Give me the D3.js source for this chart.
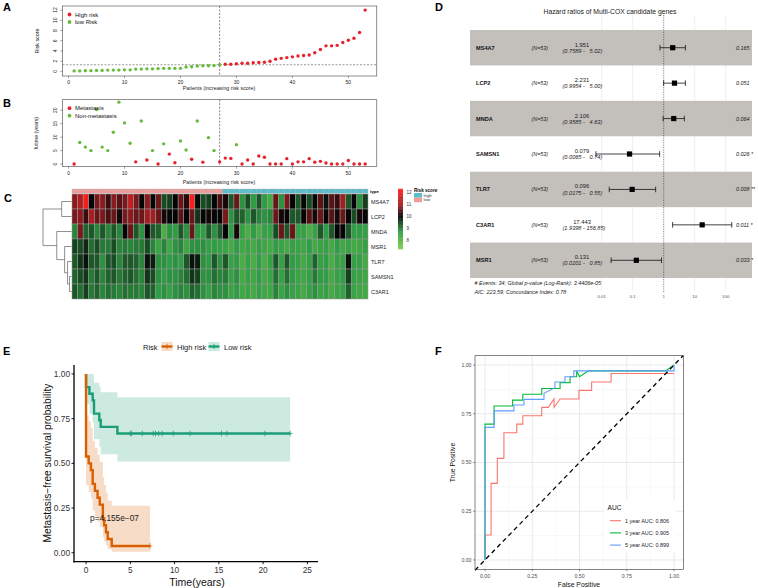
<!DOCTYPE html>
<html><head><meta charset="utf-8">
<script src="https://cdn.jsdelivr.net/npm/d3@7"></script>
<style>
body{margin:0;background:#fff}
svg{display:block}
text{font-family:"Liberation Sans",Arial,Helvetica,sans-serif;white-space:pre}
</style>
</head><body>
<svg id="c" width="758" height="588"></svg>
<script>
// ---------------- DATA ----------------
const patients = d3.range(1, 54);
const riskScore = [0.1,0.1,0.15,0.15,0.2,0.2,0.25,0.25,0.25,0.3,0.3,0.45,0.45,0.5,0.5,0.55,0.6,0.6,0.6,0.6,0.85,0.9,1.05,1.1,1.1,1.15,1.3,
  1.4,1.4,1.5,1.6,1.6,1.7,1.75,1.8,2.0,2.4,2.55,2.7,2.85,3.0,3.1,3.2,3.65,4.3,5.0,5.0,5.1,5.65,6.1,6.5,7.6,12.0];
const riskCutoff = 1.3;
const lowRiskCount = 27;
const futime = [0,8,6.3,5,20.3,6.3,5,11.8,23,15.3,7.7,0.8,16,1.5,5,0,7.5,3.7,0.5,8.6,5.2,1.8,16,0.7,9.8,5,0.8,
  2.2,2.1,7.2,0,1.5,0,3,2.5,0,0,0,2,0,0.8,0.8,2,0.7,1,0.4,0,0,0,1.3,0,0,0];
const metastasis = [1,0,0,0,0,0,0,0,0,0,0,1,0,1,0,1,0,1,1,0,0,1,0,1,0,0,1,
  1,1,0,1,1,1,1,1,1,1,1,1,1,1,1,1,1,1,1,1,1,1,1,1,1,1];

const heatGenes = ["MS4A7","LCP2","MNDA","MSR1","TLR7","SAMSN1","C3AR1"];
const exprMS4A7 = [10.8,11.2,12.2,10.0,10.7,10.8,10.3,10.8,10.5,10.7,11.4,10.7,10.0,10.8,10.0,10.6,9.4,9.5,10.0,10.6,10.2,12.2,10.0,9.4,9.5,10.0,10.4,
  10.1,9.3,10.6,8.8,9.4,8.7,9.3,8.7,8.3,10.6,8.8,10.7,10.0,9.3,10.0,9.4,10.0,10.5,9.9,10.5,10.3,11.0,9.3,10.0,8.8,9.5];
const exprLCP2 = [10.7,10.8,10.3,11.1,10.6,10.7,10.4,10.6,10.1,10.7,10.8,10.6,10.6,11.0,11.0,10.6,10.1,10.0,10.0,10.5,10.0,10.6,9.6,10.0,10.1,10.0,10.0,
  10.7,8.8,9.3,9.2,8.8,9.3,8.9,8.8,8.9,10.6,10.1,10.0,9.3,9.3,10.0,10.5,10.1,10.6,10.0,10.5,10.1,10.6,10.0,9.4,10.1,10.0];
const exprMNDA = [8.9,10.7,9.2,9.3,8.9,9.3,8.9,9.3,8.9,10.0,10.6,9.3,8.8,10.0,9.3,9.2,8.2,8.8,8.7,9.3,8.8,10.6,8.8,8.7,9.3,8.8,9.3,
  10.0,8.7,10.1,8.6,8.2,8.7,8.2,8.6,8.6,9.4,10.6,9.3,10.6,8.6,8.6,8.2,8.6,9.3,8.7,9.3,10.0,10.0,9.3,8.7,8.7,8.6];
const exprMSR1 = [9.5,9.4,9.7,9.1,9.4,9.0,9.0,9.4,8.9,9.0,8.9,9.0,9.0,9.4,8.9,8.5,8.9,8.4,8.8,8.9,8.4,8.8,8.8,8.8,8.6,8.7,8.6,
  8.5,8.3,8.7,8.4,8.5,8.3,8.6,8.4,8.3,8.7,8.5,8.3,8.6,8.5,8.4,8.7,8.3,8.5,8.6,8.3,8.7,8.4,8.5,8.3,8.4,8.6];
const exprTLR7 = [9.3,9.6,9.9,9.3,9.3,8.8,9.3,9.4,8.9,9.3,9.3,9.2,8.9,9.9,9.8,8.8,8.8,8.7,8.8,8.7,9.3,9.9,9.8,8.8,8.7,9.3,8.8,
  9.3,8.6,8.7,8.2,8.6,8.2,8.7,8.2,8.6,9.3,8.6,9.3,8.7,8.6,8.3,8.6,9.2,8.6,8.7,8.2,8.6,8.6,9.9,8.6,8.6,8.3];
const exprSAMSN1 = [9.2,9.4,9.6,9.0,9.3,8.9,9.2,9.3,9.0,9.2,9.3,9.1,8.9,9.6,9.4,8.8,8.7,8.8,8.8,8.9,9.1,9.6,9.5,8.8,8.8,9.1,8.9,
  9.0,8.6,8.8,8.3,8.6,8.4,8.7,8.3,8.5,9.1,8.6,9.1,8.7,8.5,8.4,8.6,9.0,8.7,8.7,8.3,8.6,8.7,9.5,8.6,8.5,8.4];
const exprC3AR1 = [9.3,9.1,9.5,9.0,9.2,8.9,9.1,9.0,8.9,9.1,9.0,9.0,8.9,9.3,9.2,8.7,8.8,8.6,8.8,8.9,8.8,9.2,9.1,8.8,8.6,8.9,8.8,
  8.8,8.5,8.7,8.4,8.5,8.3,8.6,8.4,8.4,8.9,8.5,8.8,8.6,8.5,8.3,8.6,8.8,8.5,8.6,8.3,8.5,8.6,9.2,8.5,8.4,8.3];
const colorbarTicks = [8,9,10,11,12];
// dendrogram merges: [left, right, height]
const dendroMerges = [["SAMSN1","C3AR1",1.0],["TLR7","m0",2.0],["MSR1","m1",3.5],["MS4A7","LCP2",5.0],["MNDA","m2",7.5],["m3","m4",14.5]];

const forestGenes = ["MS4A7","LCP2","MNDA","SAMSN1","TLR7","C3AR1","MSR1"];
const forestN = [53,53,53,53,53,53,53];
const forestHR = [1.951,2.231,2.106,0.079,0.096,17.443,0.131];
const forestLo = ["0.7589","0.9954","0.9585","0.0065","0.0175","1.9398","0.0201"];
const forestHi = ["5.02","5.00","4.63","0.74","0.55","156.85","0.85"];
const forestP = ["0.165","0.051","0.064","0.026 *","0.008 **","0.011 *","0.033 *"];
const forestTicks = [0.01,0.1,1,10,100];

const kmHighTime = [0,0.3,0.55,0.75,1.0,1.3,1.55,1.9,2.05,2.25,2.45,2.9];
const kmHighSurv = [0.538,0.5,0.462,0.385,0.346,0.308,0.269,0.192,0.154,0.115,0.077,0.038];
const kmHighLower = [0.377,0.340,0.305,0.237,0.204,0.173,0.143,0.088,0.063,0.040,0.020,0.006];
const kmHighUpper = [0.769,0.734,0.699,0.625,0.587,0.548,0.507,0.423,0.379,0.335,0.291,0.263];
const kmHighEnd = 7.23;
const kmHighCensor = [7.23];
const kmLowTime = [0,0.38,0.75,0.9,1.5,1.66,3.54];
const kmLowSurv = [0.926,0.889,0.852,0.778,0.741,0.704,0.667];
const kmLowLower = [0.832,0.778,0.728,0.636,0.593,0.551,0.511];
const kmLowUpper = [1,1,0.997,0.951,0.926,0.898,0.870];
const kmLowEnd = 23.05;
const kmLowCensor = [5,5.15,6.35,7.6,7.85,8.2,8.6,9.85,11.75,15.3,15.9,20.2,23.05];
const kmXTicks = [0,5,10,15,20,25];
const kmYTicks = [0,0.25,0.5,0.75,1];

const roc1FPR = [0,0,0.032,0.032,0.065,0.065,0.1,0.1,0.168,0.168,0.2,0.2,0.3,0.3,0.335,0.365,0.365,0.397,0.497,0.497,0.564,0.564,0.667,0.667,1];
const roc1TPR = [0,0.128,0.128,0.393,0.393,0.521,0.521,0.653,0.653,0.697,0.697,0.74,0.74,0.783,0.783,0.826,0.783,0.826,0.826,0.87,0.87,0.913,0.913,0.957,0.957];
const roc3FPR = [0,0,0.048,0.048,0.146,0.146,0.2,0.2,0.3,0.3,0.397,0.397,0.45,0.45,0.485,0.485,0.5,0.547,0.955,1];
const roc3TPR = [0,0.697,0.697,0.79,0.79,0.82,0.82,0.85,0.85,0.88,0.88,0.91,0.91,0.94,0.94,0.97,0.94,0.97,0.97,1];
const roc5FPR = [0,0,0.048,0.048,0.153,0.153,0.206,0.206,0.312,0.312,0.37,0.37,0.423,0.423,0.47,0.47,1,1];
const roc5TPR = [0,0.68,0.68,0.765,0.765,0.795,0.795,0.824,0.824,0.855,0.884,0.913,0.913,0.94,0.94,0.97,0.97,1];
const rocLabels = ["1 year AUC: 0.806","3 year AUC: 0.905","5 year AUC: 0.899"];
const rocTicks = [0,0.25,0.5,0.75,1];

// ---------------- DRAW ----------------
const svg = d3.select("#c");
const RED = "#E8202A", GREEN = "#66BB3A";

function txt(g, x, y, s, size, opts = {}) {
  const t = g.append("text").attr("x", x).attr("y", y).text(s).attr("font-size", size)
    .attr("fill", opts.fill || "#000");
  if (opts.anchor) t.attr("text-anchor", opts.anchor);
  if (opts.weight) t.attr("font-weight", opts.weight);
  if (opts.style) t.attr("font-style", opts.style);
  if (opts.rotate !== undefined) t.attr("transform", `rotate(${opts.rotate},${x},${y})`);
  return t;
}

// panel letters
[["A",3,11],["B",3,107],["C",4,202],["D",435,11],["E",3,355],["F",435,355]].forEach(([l,x,y]) =>
  txt(svg, x, y, l, 11, {weight: "bold"}));

// ---- base-R style scatter panels (A, B)
function basePanel(top, bottom, yDomain, yTicks, values, colorFn, ylab, legend, hline) {
  const g = svg.append("g");
  const x = d3.scaleLinear().domain([-1.08, 55.08]).range([62.5, 376.8]);
  const y = d3.scaleLinear().domain(yDomain).range([bottom, top]);
  g.append("rect").attr("x", x.range()[0]).attr("y", top).attr("width", x.range()[1]-x.range()[0])
    .attr("height", bottom-top).attr("fill", "none").attr("stroke", "#444").attr("stroke-width", 0.6);
  [0,10,20,30,40,50].forEach(v => {
    g.append("line").attr("x1", x(v)).attr("x2", x(v)).attr("y1", bottom).attr("y2", bottom+2.2).attr("stroke","#444").attr("stroke-width",0.5);
    txt(g, x(v), bottom+8, String(v), 5, {anchor: "middle", fill: "#222"});
  });
  yTicks.forEach(v => {
    g.append("line").attr("x1", x.range()[0]-2.2).attr("x2", x.range()[0]).attr("y1", y(v)).attr("y2", y(v)).attr("stroke","#444").attr("stroke-width",0.5);
    txt(g, x.range()[0]-5, y(v), String(v), 5, {anchor: "middle", fill: "#222", rotate: -90});
  });
  txt(g, 38.5, (top+bottom)/2, ylab, 5.3, {anchor: "middle", rotate: -90, fill: "#222"});
  g.append("line").attr("x1", x(lowRiskCount)).attr("x2", x(lowRiskCount)).attr("y1", top).attr("y2", bottom)
    .attr("stroke", "#333").attr("stroke-width", 0.6).attr("stroke-dasharray", "2,1.5");
  if (hline !== undefined)
    g.append("line").attr("x1", x.range()[0]).attr("x2", x.range()[1]).attr("y1", y(hline)).attr("y2", y(hline))
      .attr("stroke", "#555").attr("stroke-width", 0.6).attr("stroke-dasharray", "2,1.5");
  g.selectAll("circle.pt").data(values).join("circle").attr("class","pt")
    .attr("cx", (d,i) => x(patients[i])).attr("cy", d => y(d)).attr("r", 1.7)
    .attr("fill", (d,i) => colorFn(i));
  legend.forEach(([label, col], i) => {
    const ly = top + 8.5 + i*7.5;
    g.append("circle").attr("cx", 69.5).attr("cy", ly).attr("r", 1.9).attr("fill", col);
    txt(g, 75, ly + 2.1, label, 6, {fill: "#111"});
  });
  return {g, x, y};
}
basePanel(6, 76, [-0.9, 12.8], [0,2,4,6,8,10,12], riskScore,
  i => i < lowRiskCount ? GREEN : RED, "Risk score", [["High risk", RED], ["low Risk", GREEN]], riskCutoff);
txt(svg, 219, 90, "Patients (increasing risk score)", 5.3, {anchor: "middle", fill: "#222"});
basePanel(99.7, 166.5, [-0.92, 23.92], [0,5,10,15,20], futime,
  i => metastasis[i] ? RED : GREEN, "futime (years)", [["Metastasis", RED], ["Non-metastasis", GREEN]]);
txt(svg, 219, 183.5, "Patients (increasing risk score)", 5.3, {anchor: "middle", fill: "#222"});

// ---- Heatmap (C)
{
  const g = svg.append("g");
  const expr = [exprMS4A7, exprLCP2, exprMNDA, exprMSR1, exprTLR7, exprSAMSN1, exprC3AR1];
  const xH = d3.scaleBand().domain(patients).range([72, 368]);
  const yH = d3.scaleBand().domain(heatGenes).range([194, 299]);
  const col = d3.scaleLinear().domain([7.3, 8.7, 10, 10.9, 12.3])
    .range(["#7ACB45", "#2E9E44", "#050505", "#9C1E22", "#FF1E1E"]).clamp(true);
  const annCol = p => p <= lowRiskCount ? "#EE9C9A" : "#5BBCCB";
  g.selectAll("rect.ann").data(patients).join("rect").attr("class","ann")
    .attr("x", d => xH(d)).attr("y", 189).attr("width", xH.bandwidth()).attr("height", 4.3)
    .attr("fill", d => annCol(d)).attr("stroke", "#aaa").attr("stroke-width", 0.3);
  txt(g, 370, 192.8, "type", 4.3, {weight: "bold"});
  heatGenes.forEach((gene, r) => {
    g.selectAll(`rect.r${r}`).data(expr[r]).join("rect").attr("class", `r${r}`)
      .attr("x", (d,i) => xH(patients[i])).attr("y", yH(gene)).attr("width", xH.bandwidth()).attr("height", yH.bandwidth())
      .attr("fill", d => col(d)).attr("stroke", "#999").attr("stroke-width", 0.5);
    txt(g, 371, yH(gene) + yH.bandwidth()/2 + 2, gene, 5.5, {fill: "#222"});
  });
  // dendrogram
  const hx = d3.scaleLinear().domain([0, 14.5]).range([71.5, 43]);
  const nodes = {};
  heatGenes.forEach(gn => nodes[gn] = {y: yH(gn) + yH.bandwidth()/2, h: 0});
  dendroMerges.forEach(([a, b, h], i) => {
    const A = nodes[a], B = nodes[b], xx = hx(h);
    const path = `M${hx(A.h)},${A.y}H${xx}V${B.y}H${hx(B.h)}`;
    g.append("path").attr("d", path).attr("fill", "none").attr("stroke", "#444").attr("stroke-width", 0.6);
    nodes["m"+i] = {y: (A.y + B.y)/2, h};
  });
  // colour bar legend
  const yb = d3.scaleLinear().domain([7.23, 12.31]).range([249, 189]);
  const steps = d3.range(7.23, 12.31, 0.05);
  g.selectAll("rect.cb").data(steps).join("rect").attr("class","cb")
    .attr("x", 398).attr("y", d => yb(d + 0.05)).attr("width", 5).attr("height", Math.abs(yb(0) - yb(0.05)) + 0.3)
    .attr("fill", d => col(d));
  colorbarTicks.forEach(v => txt(g, 406.5, yb(v) + 1.6, String(v), 4.5, {fill: "#333"}));
  txt(g, 414, 191.8, "Risk score", 4.6, {weight: "bold"});
  g.append("rect").attr("x", 414).attr("y", 193).attr("width", 8).attr("height", 4.6).attr("fill", "#5BBCCB");
  g.append("rect").attr("x", 414).attr("y", 197.6).attr("width", 8).attr("height", 4.6).attr("fill", "#EE9C9A");
  txt(g, 423.5, 196.8, "high", 4.4, {fill: "#333"});
  txt(g, 423.5, 201.4, "low", 4.4, {fill: "#333"});
}

// ---- Forest plot (D)
{
  const g = svg.append("g");
  const xF = d3.scaleLog().domain([0.01, 100]).range([601.7, 725.7]);
  const yF = d3.scaleBand().domain(forestGenes).range([30, 278]);
  txt(g, 610, 13.5, "Hazard ratios of Mutli-COX candidate genes", 6.8, {anchor: "middle", fill: "#222"});
  forestTicks.filter(t => t !== 1).forEach(t =>
    g.append("line").attr("x1", xF(t)).attr("x2", xF(t)).attr("y1", 15).attr("y2", 291).attr("stroke", "#E4E4E4").attr("stroke-width", 0.6));
  forestGenes.forEach((gn, i) => {
    const cy = yF(gn) + yF.bandwidth()/2;
    if (i % 2 === 0) g.append("rect").attr("x", 470).attr("y", yF(gn)).attr("width", 282).attr("height", yF.bandwidth()).attr("fill", "#C3BFBB");
    txt(g, 476, cy + 2, gn, 5.6, {weight: "bold", fill: "#111"});
    txt(g, 531.5, cy + 2, `(N=${forestN[i]})`, 5.4, {style: "italic", fill: "#222"});
    txt(g, 582, cy - 1, String(forestHR[i]), 5.8, {anchor: "middle", fill: "#222"});
    txt(g, 562.5, cy + 5.2, `(${forestLo[i]} - ${forestHi[i].padStart(6, " ")})`, 5.6, {style: "italic", fill: "#222"});
    txt(g, 736, cy + 2, forestP[i], 5.4, {style: "italic", fill: "#222"});
  });
  g.append("line").attr("x1", xF(1)).attr("x2", xF(1)).attr("y1", 15).attr("y2", 293)
    .attr("stroke", "#333").attr("stroke-width", 0.6).attr("stroke-dasharray", "1.2,1.2");
  forestGenes.forEach((gn, i) => {
    const cy = yF(gn) + yF.bandwidth()/2;
    const lo = +forestLo[i], hi = +forestHi[i];
    g.append("line").attr("x1", xF(lo)).attr("x2", xF(hi)).attr("y1", cy).attr("y2", cy).attr("stroke", "#111").attr("stroke-width", 0.8);
    [lo, hi].forEach(v => g.append("line").attr("x1", xF(v)).attr("x2", xF(v)).attr("y1", cy-2.8).attr("y2", cy+2.8).attr("stroke", "#111").attr("stroke-width", 0.8));
    g.append("rect").attr("x", xF(forestHR[i]) - 2.6).attr("y", cy - 2.6).attr("width", 5.2).attr("height", 5.2).attr("fill", "#000");
  });
  txt(g, 474.5, 285, "# Events: 34; Global p-value (Log-Rank): 3.4406e-05", 5.4, {style: "italic", fill: "#222"});
  txt(g, 474.5, 294, "AIC: 223.59; Concordance Index: 0.78", 5.4, {style: "italic", fill: "#222"});
  forestTicks.forEach(t => txt(g, xF(t), 297.5, String(t), 4.4, {anchor: "middle", fill: "#555"}));
}

// ---- Kaplan-Meier (E)
{
  const g = svg.append("g");
  const x = d3.scaleLinear().domain([-1.36, 26.2]).range([74, 318]);
  const y = d3.scaleLinear().domain([-0.05, 1.05]).range([561.7, 365]);
  const ORANGE = "#D95F02", TEAL = "#1B9E77";
  function group(times, surv, lower, upper, end, censor, color) {
    const pts = times.map((t, i) => ({t, s: surv[i], l: lower[i], u: upper[i]}));
    const last = pts[pts.length - 1];
    const band = pts.concat([{t: end, s: last.s, l: last.l, u: last.u}]);
    g.append("path").datum(band).attr("fill", color).attr("fill-opacity", 0.22)
      .attr("d", d3.area().curve(d3.curveStepAfter).x(d => x(d.t)).y0(d => y(d.l)).y1(d => y(d.u)));
    const line = [{t: 0, s: 1}].concat(pts).concat([{t: end, s: last.s}]);
    g.append("path").datum(line).attr("fill", "none").attr("stroke", color).attr("stroke-width", 2.4)
      .attr("d", d3.line().curve(d3.curveStepAfter).x(d => x(d.t)).y(d => y(d.s)));
    censor.forEach(c => {
      g.append("line").attr("x1", x(c)).attr("x2", x(c)).attr("y1", y(last.s) - 2.8).attr("y2", y(last.s) + 2.8).attr("stroke", color).attr("stroke-width", 0.8);
      g.append("line").attr("x1", x(c) - 2.2).attr("x2", x(c) + 2.2).attr("y1", y(last.s)).attr("y2", y(last.s)).attr("stroke", color).attr("stroke-width", 0.8);
    });
  }
  group(kmLowTime, kmLowSurv, kmLowLower, kmLowUpper, kmLowEnd, kmLowCensor, TEAL);
  group(kmHighTime, kmHighSurv, kmHighLower, kmHighUpper, kmHighEnd, kmHighCensor, ORANGE);
  g.append("line").attr("x1", 74).attr("x2", 74).attr("y1", 365).attr("y2", 562.5).attr("stroke", "#000").attr("stroke-width", 1.3);
  g.append("line").attr("x1", 73.4).attr("x2", 318).attr("y1", 561.7).attr("y2", 561.7).attr("stroke", "#000").attr("stroke-width", 1.3);
  kmYTicks.forEach(v => {
    g.append("line").attr("x1", 71.5).attr("x2", 74).attr("y1", y(v)).attr("y2", y(v)).attr("stroke", "#000").attr("stroke-width", 0.9);
    txt(g, 70, y(v) + 3, d3.format(".2f")(v), 8.3, {anchor: "end", fill: "#333"});
  });
  kmXTicks.forEach(v => {
    g.append("line").attr("x1", x(v)).attr("x2", x(v)).attr("y1", 561.7).attr("y2", 564.2).attr("stroke", "#000").attr("stroke-width", 0.9);
    txt(g, x(v), 572.5, String(v), 8.3, {anchor: "middle", fill: "#333"});
  });
  txt(g, 197, 586, "Time(years)", 10.5, {anchor: "middle", fill: "#111"});
  txt(g, 51, 463, "Metastasis\u2212free survival probability", 10.2, {anchor: "middle", rotate: -90, fill: "#111"});
  txt(g, 90, 521, "p=4.155e\u221207", 8.3, {fill: "#222"});
  // legend
  txt(g, 143, 349.5, "Risk", 7.5, {fill: "#222"});
  [[ORANGE, 161.5, "High risk", 177], [TEAL, 208.5, "Low risk", 224]].forEach(([c, kx, lab, tx]) => {
    g.append("rect").attr("x", kx).attr("y", 342).attr("width", 11).attr("height", 9).attr("fill", c).attr("fill-opacity", 0.22);
    g.append("line").attr("x1", kx).attr("x2", kx + 11).attr("y1", 346.5).attr("y2", 346.5).attr("stroke", c).attr("stroke-width", 2.4);
    g.append("line").attr("x1", kx + 5.5).attr("x2", kx + 5.5).attr("y1", 343.8).attr("y2", 349.2).attr("stroke", c).attr("stroke-width", 0.8);
    txt(g, tx, 349.5, lab, 7.5, {fill: "#222"});
  });
}

// ---- ROC (F)
{
  const g = svg.append("g");
  const x = d3.scaleLinear().domain([-0.053, 1.049]).range([475, 683.3]);
  const y = d3.scaleLinear().domain([-0.048, 1.048]).range([569.3, 355.7]);
  g.append("rect").attr("x", 475).attr("y", 355.7).attr("width", 208.3).attr("height", 213.6).attr("fill", "#fff");
  const minor = [0.125, 0.375, 0.625, 0.875];
  minor.forEach(v => {
    g.append("line").attr("x1", x(v)).attr("x2", x(v)).attr("y1", 355.7).attr("y2", 569.3).attr("stroke", "#F0F0F0").attr("stroke-width", 0.5);
    g.append("line").attr("x1", 475).attr("x2", 683.3).attr("y1", y(v)).attr("y2", y(v)).attr("stroke", "#F0F0F0").attr("stroke-width", 0.5);
  });
  rocTicks.forEach(v => {
    g.append("line").attr("x1", x(v)).attr("x2", x(v)).attr("y1", 355.7).attr("y2", 569.3).attr("stroke", "#E6E6E6").attr("stroke-width", 0.9);
    g.append("line").attr("x1", 475).attr("x2", 683.3).attr("y1", y(v)).attr("y2", y(v)).attr("stroke", "#E6E6E6").attr("stroke-width", 0.9);
  });
  const cols = ["#F8766D", "#00BA38", "#619CFF"];
  const series = [[roc1FPR, roc1TPR], [roc3FPR, roc3TPR], [roc5FPR, roc5TPR]];
  series.forEach(([fx, ty], k) => {
    const pts = fx.map((f, i) => [x(f), y(ty[i])]);
    g.append("path").attr("d", d3.line()(pts)).attr("fill", "none").attr("stroke", cols[k]).attr("stroke-width", 1.1);
  });
  g.append("line").attr("x1", x(-0.053)).attr("y1", y(-0.053)).attr("x2", x(1.049)).attr("y2", y(1.049))
    .attr("stroke", "#000").attr("stroke-width", 1.3).attr("stroke-dasharray", "4.5,3.5");
  g.append("rect").attr("x", 475).attr("y", 355.7).attr("width", 208.3).attr("height", 213.6).attr("fill", "none").attr("stroke", "#333").attr("stroke-width", 0.6);
  rocTicks.forEach(v => {
    g.append("line").attr("x1", x(v)).attr("x2", x(v)).attr("y1", 569.3).attr("y2", 571.3).attr("stroke", "#333").attr("stroke-width", 0.5);
    txt(g, x(v), 578, d3.format(".2f")(v), 5.2, {anchor: "middle", fill: "#4D4D4D"});
    g.append("line").attr("x1", 473).attr("x2", 475).attr("y1", y(v)).attr("y2", y(v)).attr("stroke", "#333").attr("stroke-width", 0.5);
    txt(g, 471.5, y(v) + 1.8, d3.format(".2f")(v), 5.2, {anchor: "end", fill: "#4D4D4D"});
  });
  txt(g, 579, 587, "False Positive", 6.8, {anchor: "middle", fill: "#111"});
  txt(g, 455, 462.5, "True Positive", 6.8, {anchor: "middle", rotate: -90, fill: "#111"});
  g.append("rect").attr("x", 604).attr("y", 500).attr("width", 72).attr("height", 51).attr("fill", "#fff");
  txt(g, 607.5, 509.5, "AUC", 6.6, {fill: "#111"});
  rocLabels.forEach((lab, k) => {
    const ly = 520.7 + k * 12.2;
    g.append("line").attr("x1", 610).attr("x2", 621).attr("y1", ly).attr("y2", ly).attr("stroke", cols[k]).attr("stroke-width", 1.1);
    txt(g, 625, ly + 1.9, lab, 5.4, {fill: "#222"});
  });
}
</script>
</body></html>
